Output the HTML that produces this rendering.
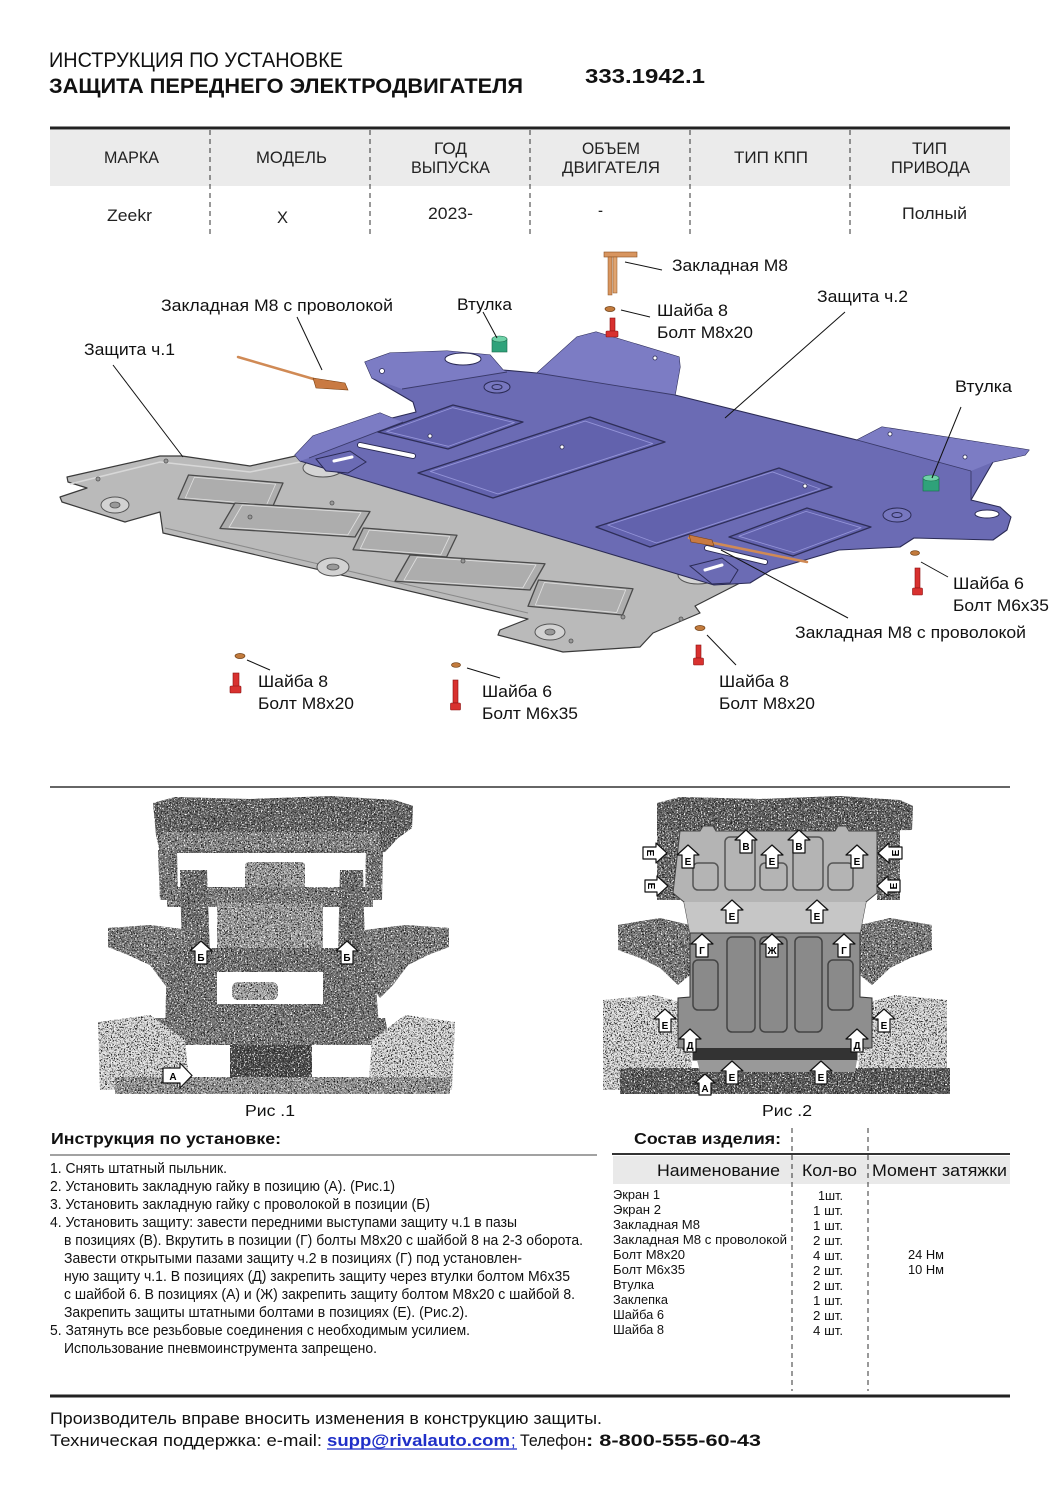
<!DOCTYPE html>
<html><head><meta charset="utf-8"><style>html,body{margin:0;padding:0;background:#fff}svg{display:block}</style></head>
<body>
<svg width="1061" height="1500" viewBox="0 0 1061 1500" xmlns="http://www.w3.org/2000/svg" font-family="'Liberation Sans', Arial, sans-serif">
<defs>
<filter id="spk" color-interpolation-filters="sRGB">
  <feTurbulence type="fractalNoise" baseFrequency="0.7" numOctaves="2" seed="7" result="n"/>
  <feColorMatrix in="n" type="matrix" values="0 0 0 0 0.1  0 0 0 0 0.1  0 0 0 0 0.1  7 0 0 0 -3.6" result="d"/>
  <feColorMatrix in="n" type="matrix" values="0 0 0 0 1  0 0 0 0 1  0 0 0 0 1  0 -7 0 0 3.0" result="w"/>
  <feComposite in="d" in2="SourceGraphic" operator="in" result="dd"/>
  <feComposite in="w" in2="SourceGraphic" operator="in" result="ww"/>
  <feMerge><feMergeNode in="SourceGraphic"/><feMergeNode in="dd"/><feMergeNode in="ww"/></feMerge>
</filter>
</defs>
<rect width="1061" height="1500" fill="#fff"/>

<!-- HEADER -->
<g fill="#111">
<text x="49" y="67" font-size="21" textLength="294" lengthAdjust="spacingAndGlyphs">ИНСТРУКЦИЯ ПО УСТАНОВКЕ</text>
<text x="49" y="93" font-size="21" font-weight="bold" textLength="474" lengthAdjust="spacingAndGlyphs">ЗАЩИТА ПЕРЕДНЕГО ЭЛЕКТРОДВИГАТЕЛЯ</text>
<text x="585" y="83" font-size="20" font-weight="bold" textLength="120" lengthAdjust="spacingAndGlyphs">333.1942.1</text>
</g>

<!-- TOP TABLE -->
<rect x="50" y="130" width="960" height="56" fill="#ebebeb"/>
<line x1="50" y1="128" x2="1010" y2="128" stroke="#222" stroke-width="3"/>
<g stroke="#333" stroke-width="1" stroke-dasharray="5,4">
<line x1="210" y1="130" x2="210" y2="236"/><line x1="370" y1="130" x2="370" y2="236"/>
<line x1="530" y1="130" x2="530" y2="236"/><line x1="690" y1="130" x2="690" y2="236"/>
<line x1="850" y1="130" x2="850" y2="236"/>
</g>
<g fill="#222" font-size="17">
<text x="104" y="163" textLength="55" lengthAdjust="spacingAndGlyphs">МАРКА</text>
<text x="256" y="163" textLength="71" lengthAdjust="spacingAndGlyphs">МОДЕЛЬ</text>
<text x="434" y="154" textLength="33" lengthAdjust="spacingAndGlyphs">ГОД</text>
<text x="411" y="173" textLength="79" lengthAdjust="spacingAndGlyphs">ВЫПУСКА</text>
<text x="582" y="154" textLength="58" lengthAdjust="spacingAndGlyphs">ОБЪЕМ</text>
<text x="562" y="173" textLength="98" lengthAdjust="spacingAndGlyphs">ДВИГАТЕЛЯ</text>
<text x="734" y="163" textLength="74" lengthAdjust="spacingAndGlyphs">ТИП КПП</text>
<text x="912" y="154" textLength="35" lengthAdjust="spacingAndGlyphs">ТИП</text>
<text x="891" y="173" textLength="79" lengthAdjust="spacingAndGlyphs">ПРИВОДА</text>
<text x="107" y="221" textLength="45" lengthAdjust="spacingAndGlyphs">Zeekr</text>
<text x="277" y="223" textLength="11" lengthAdjust="spacingAndGlyphs">X</text>
<text x="428" y="219" textLength="45" lengthAdjust="spacingAndGlyphs">2023-</text>
<text x="598" y="216" textLength="5" lengthAdjust="spacingAndGlyphs">-</text>
<text x="902" y="219" textLength="65" lengthAdjust="spacingAndGlyphs">Полный</text>
</g>

<!-- GRAY PLATE (Защита ч.1) -->
<path d="M67,477 L160,456 L182,456 L250,466 L300,455 L742,582 L695,606 L700,613 L653,633 L640,647 L563,652 L498,635 L500,630 L528,619 L163,533 L160,512 L125,522 L62,502 L60,497 L87,488 L68,482 Z" fill="#bababa" stroke="#3a3a3a" stroke-width="1.2" stroke-linejoin="round"/>
<path d="M70,484 L160,462 L250,472 L300,462" fill="none" stroke="#d8d8d8" stroke-width="1.5"/>
<path d="M165,528 L528,613" fill="none" stroke="#8a8a8a" stroke-width="1"/>
<g stroke-linejoin="round">
<polygon points="188.5,475 283,483 272.5,507 178,499" fill="#adadad" stroke="#4a4a4a" stroke-width="1.3"/>
<polygon points="188.5,475 283,483 272.5,507 178,499" fill="none" stroke="#dedede" stroke-width="1" transform="translate(230.5,491) scale(0.86) translate(-230.5,-491)"/>
<polygon points="235,503 370,511.5 355,537 220,528.5" fill="#adadad" stroke="#4a4a4a" stroke-width="1.3"/>
<polygon points="235,503 370,511.5 355,537 220,528.5" fill="none" stroke="#dedede" stroke-width="1" transform="translate(295,520) scale(0.88) translate(-295,-520)"/>
<polygon points="363.4,528 457,535.25 446.6,557 353,549.75" fill="#adadad" stroke="#4a4a4a" stroke-width="1.3"/>
<polygon points="363.4,528 457,535.25 446.6,557 353,549.75" fill="none" stroke="#dedede" stroke-width="1" transform="translate(405,542.5) scale(0.86) translate(-405,-542.5)"/>
<polygon points="410,555 545,563.75 530,590 395,581.25" fill="#adadad" stroke="#4a4a4a" stroke-width="1.3"/>
<polygon points="410,555 545,563.75 530,590 395,581.25" fill="none" stroke="#dedede" stroke-width="1" transform="translate(470,572.5) scale(0.88) translate(-470,-572.5)"/>
<polygon points="538.5,580 633,588.75 622.5,615 528,606.25" fill="#adadad" stroke="#4a4a4a" stroke-width="1.3"/>
<polygon points="538.5,580 633,588.75 622.5,615 528,606.25" fill="none" stroke="#dedede" stroke-width="1" transform="translate(580.5,597.5) scale(0.86) translate(-580.5,-597.5)"/>
</g>
<g fill="#d2d2d2" stroke="#555" stroke-width="1">
<ellipse cx="115" cy="505" rx="14" ry="8"/><ellipse cx="333" cy="567" rx="16" ry="9"/><ellipse cx="550" cy="632" rx="15" ry="8"/>
</g>
<g fill="#999" stroke="#555" stroke-width="0.8">
<ellipse cx="115" cy="505" rx="5" ry="3"/><ellipse cx="333" cy="567" rx="6" ry="3"/><ellipse cx="550" cy="632" rx="5" ry="3"/>
<circle cx="98" cy="479" r="2"/><circle cx="166" cy="461" r="2"/><circle cx="250" cy="517" r="2"/><circle cx="332" cy="503" r="2"/>
<circle cx="463" cy="561" r="2"/><circle cx="623" cy="617" r="2"/><circle cx="681" cy="619" r="2"/><circle cx="571" cy="641" r="2"/>
</g>
<ellipse cx="323" cy="468" rx="20" ry="9" fill="#d4d4d4" stroke="#555" stroke-width="1"/>
<ellipse cx="698" cy="575" rx="20" ry="9" fill="#d4d4d4" stroke="#555" stroke-width="1"/>

<!-- PURPLE PLATE (Защита ч.2) -->
<path d="M300,461 L295,455 L313,436 L380,413 L392,418 L416,412 L413,402 L372,378 L365,362 L390,353 L447,351 L490,355 L503,370 L537,373 L577,337 L596,332 L679,357 L680,367 L675,395 L857,440 L882,427 L1029,450 L1025,455 L993,462 L971,500 L1000,507 L1011,517 L1007,530 L993,540 L914,538 L900,547 L839,550 L771,570 L750,583 L714,585 Z" fill="#6b6bb4" stroke="#2b2b55" stroke-width="1.1" stroke-linejoin="round"/>
<g fill="#7c7cc4">
<path d="M365,362 L390,353 L447,351 L490,355 L503,370 L507,372 L402,389 L372,378 Z"/>
<path d="M295,455 L313,436 L380,413 L392,418 L403,422 L309,458 L300,461 Z"/>
<path d="M537,373 L577,337 L596,332 L679,357 L680,367 L675,395 Z"/>
<path d="M857,440 L882,427 L1029,450 L1025,455 L993,462 L971,471 Z"/>
</g>
<g stroke="#3a3a6a" stroke-width="0.9" fill="none">
<line x1="402" y1="389" x2="507" y2="372"/><line x1="309" y1="458" x2="403" y2="422"/>
<line x1="537" y1="373" x2="675" y2="395"/><line x1="857" y1="440" x2="971" y2="471"/>
<line x1="971" y1="471" x2="971" y2="500"/>
</g>
<g stroke-linejoin="round">
<polygon points="378,432 453,405 523,422 448,449" fill="#6262ad" stroke="#2e2e58" stroke-width="1.3"/>
<polygon points="378,432 453,405 523,422 448,449" fill="none" stroke="#9494d8" stroke-width="1" transform="translate(450.5,427) scale(0.88) translate(-450.5,-427)"/>
<polygon points="418,473 590,417 665,442 493,498" fill="#6262ad" stroke="#2e2e58" stroke-width="1.3"/>
<polygon points="418,473 590,417 665,442 493,498" fill="none" stroke="#9494d8" stroke-width="1" transform="translate(541.5,457.5) scale(0.9) translate(-541.5,-457.5)"/>
<polygon points="596,527 779,468 832,487 650,547" fill="#6262ad" stroke="#2e2e58" stroke-width="1.3"/>
<polygon points="596,527 779,468 832,487 650,547" fill="none" stroke="#9494d8" stroke-width="1" transform="translate(714,507) scale(0.9) translate(-714,-507)"/>
<polygon points="729,537 807,508 871,527 793,556" fill="#6262ad" stroke="#2e2e58" stroke-width="1.3"/>
<polygon points="729,537 807,508 871,527 793,556" fill="none" stroke="#9494d8" stroke-width="1" transform="translate(800,532) scale(0.86) translate(-800,-532)"/>
</g>
<path d="M316,459 L350,451 L366,462 L348,473 L326,471 Z" fill="#6b6bb4" stroke="#2b2b55" stroke-width="1"/>
<line x1="334" y1="461" x2="352" y2="457" stroke="#fff" stroke-width="3" stroke-linecap="round"/>
<path d="M690,566 L722,558 L738,570 L730,583 L712,584 Z" fill="#6b6bb4" stroke="#2b2b55" stroke-width="1"/>
<line x1="705" y1="570" x2="722" y2="565" stroke="#fff" stroke-width="3" stroke-linecap="round"/>
<g fill="#7777bf" stroke="#2b2b55" stroke-width="1">
<ellipse cx="497" cy="387" rx="13" ry="6"/><ellipse cx="897" cy="515" rx="14" ry="7"/>
<ellipse cx="497" cy="387" rx="5" ry="2.5"/><ellipse cx="897" cy="515" rx="5" ry="2.5"/>
</g>
<ellipse cx="463" cy="359" rx="18" ry="6" fill="#fff" stroke="#2b2b55" stroke-width="1"/>
<ellipse cx="987" cy="514" rx="12" ry="4" fill="#fff" stroke="#2b2b55" stroke-width="1"/>
<g fill="#fff" stroke="#2b2b55" stroke-width="0.8">
<circle cx="382" cy="371" r="2.5"/><circle cx="655" cy="358" r="2"/><circle cx="965" cy="457" r="2"/><circle cx="890" cy="434" r="2"/>
<circle cx="562" cy="447" r="2"/><circle cx="805" cy="486" r="2"/><circle cx="430" cy="436" r="2"/>
</g>
<line x1="360" y1="445" x2="413" y2="456" stroke="#2b2b55" stroke-width="6" stroke-linecap="round"/>
<line x1="360" y1="445" x2="413" y2="456" stroke="#fff" stroke-width="4" stroke-linecap="round"/>
<line x1="707" y1="548" x2="765" y2="562" stroke="#2b2b55" stroke-width="6" stroke-linecap="round"/>
<line x1="707" y1="548" x2="765" y2="562" stroke="#fff" stroke-width="4" stroke-linecap="round"/>

<!-- HARDWARE -->
<line x1="238" y1="357" x2="317" y2="380" stroke="#d08a55" stroke-width="2.5" stroke-linecap="round"/>
<path d="M313,378 L345,383 L348,390 L316,388 Z" fill="#c97a42" stroke="#7a4010" stroke-width="0.6"/>
<line x1="689" y1="538" x2="807" y2="562" stroke="#d08a55" stroke-width="2.5" stroke-linecap="round"/>
<path d="M689,535 L712,540 L714,546 L691,542 Z" fill="#c97a42" stroke="#7a4010" stroke-width="0.6"/>
<rect x="604" y="252" width="33" height="5" fill="#d8955f" stroke="#8a5020" stroke-width="0.6"/>
<rect x="608" y="257" width="4" height="38" fill="#d8955f" stroke="#8a5020" stroke-width="0.5"/>
<rect x="613" y="257" width="4" height="36" fill="#e0a470" stroke="#8a5020" stroke-width="0.5"/>
<rect x="492" y="339" width="15" height="13" fill="#2fa27a" stroke="#1a6a4a" stroke-width="0.6"/>
<ellipse cx="499.5" cy="339" rx="7.5" ry="3" fill="#6fd2a8" stroke="#1a6a4a" stroke-width="0.6"/>
<rect x="923" y="478" width="16" height="13" fill="#2fa27a" stroke="#1a6a4a" stroke-width="0.6"/>
<ellipse cx="931" cy="478" rx="8" ry="3" fill="#6fd2a8" stroke="#1a6a4a" stroke-width="0.6"/>
<g fill="#c27b3d" stroke="#6a3a10" stroke-width="0.7">
<ellipse cx="610" cy="309" rx="5" ry="2.5"/><ellipse cx="240" cy="656" rx="5" ry="2.5"/>
<ellipse cx="456" cy="665" rx="4.5" ry="2.3"/><ellipse cx="700" cy="628" rx="5" ry="2.5"/><ellipse cx="915" cy="553" rx="4.5" ry="2.3"/>
</g>
<g fill="#d8312f" stroke="#8a1010" stroke-width="0.6">
<rect x="610" y="318" width="5" height="13"/><rect x="606" y="331" width="12" height="6" rx="1"/>
<rect x="233" y="673" width="6" height="14"/><rect x="230" y="686" width="11" height="7" rx="1"/>
<rect x="453" y="680" width="5" height="23"/><rect x="450.5" y="703" width="10" height="7" rx="1"/>
<rect x="696" y="645" width="5" height="13"/><rect x="693.5" y="658" width="10" height="7" rx="1"/>
<rect x="915" y="568" width="5" height="20"/><rect x="912.5" y="588" width="10" height="7" rx="1"/>
</g>

<!-- LEADER LINES -->
<g stroke="#111" stroke-width="1">
<line x1="113" y1="365" x2="183" y2="457"/>
<line x1="297" y1="317" x2="322" y2="370"/>
<line x1="483" y1="312" x2="497" y2="338"/>
<line x1="625" y1="262" x2="662" y2="270"/>
<line x1="621" y1="310" x2="650" y2="317"/>
<line x1="845" y1="312" x2="725" y2="418"/>
<line x1="961" y1="407" x2="932" y2="478"/>
<line x1="921" y1="562" x2="948" y2="577"/>
<line x1="721" y1="550" x2="848" y2="618"/>
<line x1="707" y1="635" x2="736" y2="665"/>
<line x1="247" y1="660" x2="270" y2="670"/>
<line x1="467" y1="668" x2="500" y2="678"/>
</g>

<!-- DIAGRAM LABELS -->
<g fill="#111" font-size="17">
<text x="161" y="311" textLength="232" lengthAdjust="spacingAndGlyphs">Закладная М8 с проволокой</text>
<text x="84" y="355" textLength="91" lengthAdjust="spacingAndGlyphs">Защита ч.1</text>
<text x="457" y="310" textLength="55" lengthAdjust="spacingAndGlyphs">Втулка</text>
<text x="672" y="271" textLength="116" lengthAdjust="spacingAndGlyphs">Закладная М8</text>
<text x="657" y="316" textLength="71" lengthAdjust="spacingAndGlyphs">Шайба 8</text>
<text x="657" y="338" textLength="96" lengthAdjust="spacingAndGlyphs">Болт М8х20</text>
<text x="817" y="302" textLength="91" lengthAdjust="spacingAndGlyphs">Защита ч.2</text>
<text x="955" y="392" textLength="57" lengthAdjust="spacingAndGlyphs">Втулка</text>
<text x="953" y="589" textLength="71" lengthAdjust="spacingAndGlyphs">Шайба 6</text>
<text x="953" y="611" textLength="96" lengthAdjust="spacingAndGlyphs">Болт М6х35</text>
<text x="795" y="638" textLength="231" lengthAdjust="spacingAndGlyphs">Закладная М8 с проволокой</text>
<text x="258" y="687" textLength="70" lengthAdjust="spacingAndGlyphs">Шайба 8</text>
<text x="258" y="709" textLength="96" lengthAdjust="spacingAndGlyphs">Болт М8х20</text>
<text x="482" y="697" textLength="70" lengthAdjust="spacingAndGlyphs">Шайба 6</text>
<text x="482" y="719" textLength="96" lengthAdjust="spacingAndGlyphs">Болт М6х35</text>
<text x="719" y="687" textLength="70" lengthAdjust="spacingAndGlyphs">Шайба 8</text>
<text x="719" y="709" textLength="96" lengthAdjust="spacingAndGlyphs">Болт М8х20</text>
</g>

<line x1="50" y1="787" x2="1010" y2="787" stroke="#333" stroke-width="1.5"/>

<!-- PHOTO 1 -->
<g filter="url(#spk)">
<path d="M153,803 L175,797 L250,799 L330,796 L395,800 L413,806 L412,828 L398,838 L385,852 L372,853 L160,853 L156,835 Z" fill="#666"/>
<rect x="160" y="832" width="220" height="18" fill="#8a8a8a"/>
<path d="M158,850 L177,850 L178,900 L160,900 Z" fill="#7a7a7a"/>
<path d="M366,850 L383,850 L382,900 L365,900 Z" fill="#7a7a7a"/>
<rect x="245" y="862" width="60" height="28" rx="4" fill="#a0a0a0"/>
<path d="M167,887 L373,887 L373,907 L167,907 Z" fill="#808080"/>
<path d="M180,870 L207,870 L210,957 L182,957 Z" fill="#707070"/>
<path d="M340,870 L363,870 L365,957 L338,957 Z" fill="#707070"/>
<rect x="217" y="903" width="106" height="47" fill="#a2a2a2"/>
<path d="M108,928 L150,925 L190,930 L195,950 L190,978 L178,998 L165,985 L150,965 L128,955 L108,947 Z" fill="#808080"/>
<path d="M449,928 L405,925 L365,930 L360,950 L366,978 L380,998 L393,985 L408,965 L428,955 L449,947 Z" fill="#808080"/>
<path d="M167,948 L373,948 L380,1040 L165,1040 Z M217,972 L217,1004 L323,1004 L323,972 Z" fill="#747474" fill-rule="evenodd"/>
<rect x="232" y="982" width="46" height="18" rx="6" fill="#aaa"/>
<path d="M155,1018 L385,1018 L390,1045 L150,1045 Z" fill="#7a7a7a"/>
<path d="M98,1022 L150,1015 L185,1040 L190,1090 L100,1090 Z" fill="#dadada"/>
<path d="M455,1022 L405,1015 L372,1040 L368,1090 L452,1090 Z" fill="#dadada"/>
<path d="M230,1045 L312,1045 L312,1088 L230,1088 Z" fill="#4a4a4a"/>
<path d="M115,1077 L450,1077 L450,1094 L115,1094 Z" fill="#999"/>
</g>
<g fill="#fff" stroke="#111" stroke-width="1.2" stroke-linejoin="round">
<path d="M201,941 L212,951 L207,951 L207,964 L195,964 L195,951 L190,951 Z"/>
<path d="M347,941 L358,951 L353,951 L353,964 L341,964 L341,951 L336,951 Z"/>
<path d="M163,1068 L180,1068 L180,1063 L192,1075.5 L180,1088 L180,1083 L163,1083 Z"/>
</g>
<g font-size="10" font-weight="bold" fill="#000" text-anchor="middle">
<text x="201" y="961">Б</text><text x="347" y="961">Б</text><text x="173" y="1080">А</text>
</g>
<text x="245" y="1116" font-size="16" fill="#111" textLength="50" lengthAdjust="spacingAndGlyphs">Рис .1</text>

<!-- PHOTO 2 -->
<g filter="url(#spk)">
<path d="M657,803 L680,797 L760,799 L840,796 L900,800 L913,806 L912,830 L657,833 Z" fill="#606060"/>
<rect x="657" y="830" width="23" height="70" fill="#6a6a6a"/>
<rect x="877" y="830" width="23" height="70" fill="#6a6a6a"/>
<path d="M618,925 L660,918 L690,925 L690,975 L678,985 L660,968 L640,958 L618,950 Z" fill="#7a7a7a"/>
<path d="M932,925 L890,918 L860,925 L860,975 L872,985 L890,968 L910,958 L932,950 Z" fill="#7a7a7a"/>
<path d="M603,1000 L655,995 L690,1005 L692,1090 L603,1090 Z" fill="#dadada"/>
<path d="M947,1000 L895,995 L860,1005 L858,1090 L947,1090 Z" fill="#dadada"/>
<path d="M620,1068 L950,1068 L950,1094 L620,1094 Z" fill="#5a5a5a"/>
</g>
<path d="M680,831 L700,831 L703,826 L713,826 L716,831 L835,831 L838,826 L846,826 L849,831 L877,831 L877,893 L866,902 L860,933 L690,933 L684,902 L673,893 Z" fill="#b4b4b4" stroke="#444" stroke-width="1"/>
<path d="M684,902 L866,902 L860,933 L690,933 Z" fill="#c6c6c6"/>
<path d="M690,933 L860,933 L860,997 L872,998 L872,1048 L857,1048 L857,1060 L693,1060 L693,1048 L678,1048 L678,998 L690,997 Z" fill="#8e8e8e" stroke="#333" stroke-width="1"/>
<rect x="693" y="1048" width="164" height="12" fill="#333"/>
<path d="M697,1060 L857,1060 L855,1072 L700,1072 Z" fill="#999"/>
<g fill="none" stroke="#555" stroke-width="1.5">
<rect x="693" y="863" width="25" height="27" rx="5"/><rect x="725" y="837" width="30" height="53" rx="5"/>
<rect x="760" y="863" width="27" height="27" rx="5"/><rect x="793" y="837" width="30" height="53" rx="5"/>
<rect x="828" y="863" width="25" height="27" rx="5"/>
</g>
<g fill="#8a8a8a" stroke="#444" stroke-width="1.5">
<rect x="693" y="960" width="25" height="50" rx="5"/><rect x="727" y="937" width="28" height="95" rx="5"/>
<rect x="760" y="937" width="27" height="95" rx="5"/><rect x="795" y="937" width="27" height="95" rx="5"/>
<rect x="828" y="960" width="25" height="50" rx="5"/>
</g>
<g fill="#fff" stroke="#111" stroke-width="1.2" stroke-linejoin="round">
<path d="M688,845 L699,855 L694,855 L694,868 L682,868 L682,855 L677,855 Z"/>
<path d="M772,845 L783,855 L778,855 L778,868 L766,868 L766,855 L761,855 Z"/>
<path d="M857,845 L868,855 L863,855 L863,868 L851,868 L851,855 L846,855 Z"/>
<path d="M746,830 L757,840 L752,840 L752,853 L740,853 L740,840 L735,840 Z"/>
<path d="M799,830 L810,840 L805,840 L805,853 L793,853 L793,840 L788,840 Z"/>
<path d="M732,900 L743,910 L738,910 L738,923 L726,923 L726,910 L721,910 Z"/>
<path d="M817,900 L828,910 L823,910 L823,923 L811,923 L811,910 L806,910 Z"/>
<path d="M702,934 L713,944 L708,944 L708,957 L696,957 L696,944 L691,944 Z"/>
<path d="M772,934 L783,944 L778,944 L778,957 L766,957 L766,944 L761,944 Z"/>
<path d="M844,934 L855,944 L850,944 L850,957 L838,957 L838,944 L833,944 Z"/>
<path d="M665,1009 L676,1019 L671,1019 L671,1032 L659,1032 L659,1019 L654,1019 Z"/>
<path d="M884,1009 L895,1019 L890,1019 L890,1032 L878,1032 L878,1019 L873,1019 Z"/>
<path d="M690,1029 L701,1039 L696,1039 L696,1052 L684,1052 L684,1039 L679,1039 Z"/>
<path d="M857,1029 L868,1039 L863,1039 L863,1052 L851,1052 L851,1039 L846,1039 Z"/>
<path d="M705,1074 L715,1083 L711,1083 L711,1095 L699,1095 L699,1083 L695,1083 Z"/>
<path d="M732,1061 L743,1071 L738,1071 L738,1084 L726,1084 L726,1071 L721,1071 Z"/>
<path d="M821,1061 L832,1071 L827,1071 L827,1084 L815,1084 L815,1071 L810,1071 Z"/>
<path d="M643,847 L656,847 L656,843 L667,853 L656,863 L656,859 L643,859 Z"/>
<path d="M645,880 L657,880 L657,876 L668,886 L657,896 L657,892 L645,892 Z"/>
<path d="M902,847 L889,847 L889,843 L878,853 L889,863 L889,859 L902,859 Z"/>
<path d="M900,880 L888,880 L888,876 L877,886 L888,896 L888,892 L900,892 Z"/>
</g>
<g font-size="10" font-weight="bold" fill="#000" text-anchor="middle">
<text x="688" y="865">Е</text><text x="772" y="865">Е</text><text x="857" y="865">Е</text>
<text x="746" y="850">В</text><text x="799" y="850">В</text>
<text x="732" y="920">Е</text><text x="817" y="920">Е</text>
<text x="702" y="954">Г</text><text x="772" y="954">Ж</text><text x="844" y="954">Г</text>
<text x="665" y="1029">Е</text><text x="884" y="1029">Е</text>
<text x="690" y="1049">Д</text><text x="857" y="1049">Д</text>
<text x="705" y="1092">А</text><text x="732" y="1081">Е</text><text x="821" y="1081">Е</text>
<text x="651" y="857" transform="rotate(90 651 853)">Е</text>
<text x="652" y="890" transform="rotate(90 652 886)">Е</text>
<text x="895" y="857" transform="rotate(-90 895 853)">Е</text>
<text x="893" y="890" transform="rotate(-90 893 886)">Е</text>
</g>
<text x="762" y="1116" font-size="16" fill="#111" textLength="50" lengthAdjust="spacingAndGlyphs">Рис .2</text>

<!-- INSTRUCTIONS -->
<text x="51" y="1144" font-size="16" font-weight="bold" fill="#111" textLength="230" lengthAdjust="spacingAndGlyphs">Инструкция по установке:</text>
<line x1="50" y1="1155" x2="597" y2="1155" stroke="#444" stroke-width="1"/>
<g font-size="14.5" fill="#111">
<text x="50" y="1173" textLength="177" lengthAdjust="spacingAndGlyphs">1. Снять штатный пыльник.</text>
<text x="50" y="1191" textLength="345" lengthAdjust="spacingAndGlyphs">2. Установить закладную гайку в позицию (А). (Рис.1)</text>
<text x="50" y="1209" textLength="380" lengthAdjust="spacingAndGlyphs">3. Установить закладную гайку с проволокой в позиции (Б)</text>
<text x="50" y="1227" textLength="467" lengthAdjust="spacingAndGlyphs">4. Установить защиту: завести передними выступами защиту ч.1 в пазы</text>
<text x="64" y="1245" textLength="519" lengthAdjust="spacingAndGlyphs">в позициях (В). Вкрутить в позиции (Г) болты М8х20 с шайбой 8 на 2-3 оборота.</text>
<text x="64" y="1263" textLength="458" lengthAdjust="spacingAndGlyphs">Завести открытыми пазами защиту ч.2 в позициях (Г) под установлен-</text>
<text x="64" y="1281" textLength="506" lengthAdjust="spacingAndGlyphs">ную защиту ч.1. В позициях (Д) закрепить защиту через втулки болтом М6х35</text>
<text x="64" y="1299" textLength="511" lengthAdjust="spacingAndGlyphs">с шайбой 6. В позициях (А) и (Ж) закрепить защиту болтом М8х20 с шайбой 8.</text>
<text x="64" y="1317" textLength="404" lengthAdjust="spacingAndGlyphs">Закрепить защиты штатными болтами в позициях (Е). (Рис.2).</text>
<text x="50" y="1335" textLength="420" lengthAdjust="spacingAndGlyphs">5. Затянуть все резьбовые соединения с необходимым усилием.</text>
<text x="64" y="1353" textLength="313" lengthAdjust="spacingAndGlyphs">Использование пневмоинструмента запрещено.</text>
</g>

<!-- PARTS TABLE -->
<rect x="613" y="1156" width="397" height="28" fill="#e9e9e9"/>
<line x1="612" y1="1154" x2="1010" y2="1154" stroke="#333" stroke-width="2"/>
<g stroke="#333" stroke-width="1" stroke-dasharray="5,4">
<line x1="792" y1="1128" x2="792" y2="1391"/><line x1="868" y1="1128" x2="868" y2="1391"/>
</g>
<text x="634" y="1144" font-size="16" font-weight="bold" fill="#111" textLength="147" lengthAdjust="spacingAndGlyphs">Состав изделия:</text>
<g font-size="17" fill="#111">
<text x="657" y="1176" textLength="123" lengthAdjust="spacingAndGlyphs">Наименование</text>
<text x="802" y="1176" textLength="55" lengthAdjust="spacingAndGlyphs">Кол-во</text>
<text x="872" y="1176" textLength="135" lengthAdjust="spacingAndGlyphs">Момент затяжки</text>
</g>
<g font-size="12.5" fill="#111">
<text x="613" y="1199" textLength="47" lengthAdjust="spacingAndGlyphs">Экран 1</text>
<text x="613" y="1214" textLength="48" lengthAdjust="spacingAndGlyphs">Экран 2</text>
<text x="613" y="1229" textLength="87" lengthAdjust="spacingAndGlyphs">Закладная М8</text>
<text x="613" y="1244" textLength="174" lengthAdjust="spacingAndGlyphs">Закладная М8 с проволокой</text>
<text x="613" y="1259" textLength="72" lengthAdjust="spacingAndGlyphs">Болт М8х20</text>
<text x="613" y="1274" textLength="72" lengthAdjust="spacingAndGlyphs">Болт М6х35</text>
<text x="613" y="1289" textLength="41" lengthAdjust="spacingAndGlyphs">Втулка</text>
<text x="613" y="1304" textLength="55" lengthAdjust="spacingAndGlyphs">Заклепка</text>
<text x="613" y="1319" textLength="51" lengthAdjust="spacingAndGlyphs">Шайба 6</text>
<text x="613" y="1334" textLength="51" lengthAdjust="spacingAndGlyphs">Шайба 8</text>
<text x="818" y="1200" textLength="25" lengthAdjust="spacingAndGlyphs">1шт.</text>
<text x="813" y="1215" textLength="30" lengthAdjust="spacingAndGlyphs">1 шт.</text>
<text x="813" y="1230" textLength="30" lengthAdjust="spacingAndGlyphs">1 шт.</text>
<text x="813" y="1245" textLength="30" lengthAdjust="spacingAndGlyphs">2 шт.</text>
<text x="813" y="1260" textLength="30" lengthAdjust="spacingAndGlyphs">4 шт.</text>
<text x="813" y="1275" textLength="30" lengthAdjust="spacingAndGlyphs">2 шт.</text>
<text x="813" y="1290" textLength="30" lengthAdjust="spacingAndGlyphs">2 шт.</text>
<text x="813" y="1305" textLength="30" lengthAdjust="spacingAndGlyphs">1 шт.</text>
<text x="813" y="1320" textLength="30" lengthAdjust="spacingAndGlyphs">2 шт.</text>
<text x="813" y="1335" textLength="30" lengthAdjust="spacingAndGlyphs">4 шт.</text>
<text x="908" y="1259" textLength="36" lengthAdjust="spacingAndGlyphs">24 Нм</text>
<text x="908" y="1274" textLength="36" lengthAdjust="spacingAndGlyphs">10 Нм</text>
</g>

<!-- FOOTER -->
<line x1="50" y1="1396" x2="1010" y2="1396" stroke="#222" stroke-width="3"/>
<g font-size="16.5" fill="#111">
<text x="50" y="1424" textLength="552" lengthAdjust="spacingAndGlyphs">Производитель вправе вносить изменения в конструкцию защиты.</text>
<text x="50" y="1446" textLength="272" lengthAdjust="spacingAndGlyphs">Техническая поддержка:  e-mail:</text>
<text x="327" y="1446" font-weight="bold" fill="#1f2fc8" textLength="183" lengthAdjust="spacingAndGlyphs">supp@rivalauto.com</text>
<text x="511" y="1446" fill="#1f2fc8">;</text>
<text x="520" y="1446" textLength="66" lengthAdjust="spacingAndGlyphs">Телефон</text>
<text x="586" y="1446" font-weight="bold" textLength="175" lengthAdjust="spacingAndGlyphs">: 8-800-555-60-43</text>
</g>
<line x1="327" y1="1449" x2="517" y2="1449" stroke="#1f2fc8" stroke-width="1.2"/>
</svg>
</body></html>
